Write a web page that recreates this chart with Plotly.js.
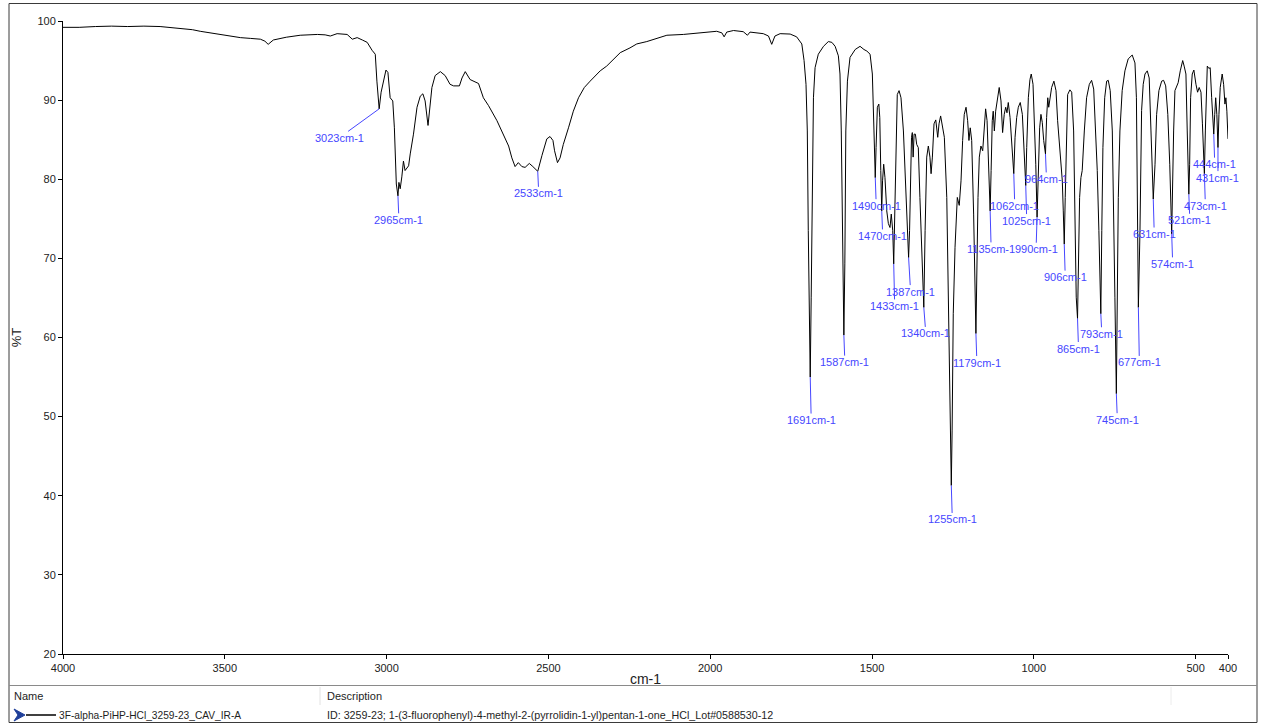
<!DOCTYPE html>
<html>
<head>
<meta charset="utf-8">
<script src="https://cdn.plot.ly/plotly-3.0.1.min.js"></script>
<style>
html,body{margin:0;padding:0;background:#fff;}
#chart{width:1261px;height:725px;}
</style>
</head>
<body>
<div id="chart"></div>
<script>
// ---------------- DATA ----------------
const wavenumber = [
4000,3950,3900,3850,3800,3750,3700,3650,3600,3576,3520,3452,3420,3390,3376,3366,3350,3310,3267,3214,
3190,3174,3153,3122,3106,3091,3075,3060,3045,3035,3030,3025,3023,3017,3010,3002,2996,2989,2981,2976,
2970,2965,2962,2958,2953,2948,2943,2932,2927,2917,2906,2896,2888,2881,2872,2867,2860,2850,2834,2819,
2804,2793,2775,2767,2757,2742,2716,2701,2685,2659,2639,2623,2613,2603,2593,2582,2572,2559,2548,2533,
2520,2505,2495,2486,2481,2472,2464,2454,2438,2423,2407,2389,2371,2340,2320,2299,2278,2248,2227,2196,
2165,2134,2083,2031,1980,1964,1957,1949,1928,1898,1885,1877,1836,1820,1810,1800,1784,1753,1733,1717,
1710,1704,1700,1697,1694,1691,1688,1684,1681,1676,1666,1650,1635,1624,1614,1604,1599,1595,1591,1587,
1584,1581,1576,1568,1552,1537,1525,1516,1506,1499,1494,1490,1487.5,1483.5,1479,1476,1473,1470,1467.5,1464,
1460,1454.5,1449.5,1444.5,1440.5,1436,1433,1429,1426,1422,1416.5,1410.5,1403,1394.5,1387,1384,1381,1378,1375.5,1373,
1370,1366,1362,1357,1352,1346,1340,1336,1331,1326,1321,1317.5,1313.5,1308.5,1303,1297,1293,1288,1283,1276.5,
1269,1264,1259,1255,1252.5,1249,1243.5,1236.5,1230.5,1225,1220,1215,1209.5,1204.5,1200.5,1196.5,1192,1186,1179,1176,
1172.5,1168.5,1163.5,1158,1154,1149,1144.5,1140,1135,1132,1128.5,1125.5,1122,1118,1111.5,1107,1101.5,1096.5,1091.5,1087,
1083,1079,1073.5,1068,1062,1058,1053,1048,1042,1035.5,1030,1025,1022,1017,1012,1008,1002.5,998.5,994,990,
986,982,978,974,969.5,964,960.5,957,954,950,945,938,931.5,926.5,919,912,909,906,903,899.5,
895.5,888.5,883,877,873,869,865,862.5,858.5,854.5,850.5,844,837,828.5,821.5,815,809,804,799,793,
790,786.5,781,775,770,764,757.5,753.5,749.5,745,742,739,734,727,718.5,708.5,696,687.5,683,680,
677,672,669,667,662,656.5,649.5,643.5,638,634,631,625.5,620.5,613.5,605,599,592.5,586,580,574,
571.5,568,564,558.5,554,547.5,540,535.5,530,526,521,518.5,515.5,510.5,505.5,499,494,489,483.5,479,
473,470,467,464,459,455,450.5,444,441,438,434.5,431,428,424,418,413.5,409.5,406.5,403.5,400
];
const transmittance = [
99.2,99.2,99.3,99.35,99.3,99.35,99.3,99.1,98.9,98.7,98.35,97.9,97.8,97.7,97.45,97.05,97.6,97.95,98.2,98.3,
98.25,98.1,98.4,98.3,97.7,97.9,97.6,97.3,96.3,95.8,92.4,89.6,88.9,91.0,92.4,93.8,93.5,90.3,89.9,86.5,
79.4,77.9,79.6,78.8,80.3,82.3,81.1,81.7,83.2,85.7,89.1,90.5,90.8,89.9,86.8,88.6,91.6,93.1,93.6,93.1,
92.0,91.8,91.8,92.8,93.6,92.6,92.1,90.3,89.3,87.4,85.7,84.2,82.7,81.6,82.1,81.6,81.5,82.0,81.6,81.0,
83.0,85.1,85.4,84.9,83.6,82.1,82.7,84.4,86.5,88.6,90.3,91.6,92.4,93.7,94.3,95.2,96.0,96.6,97.1,97.4,
97.8,98.2,98.3,98.5,98.7,98.5,98.0,98.6,98.8,98.65,98.2,98.6,98.4,98.1,97.05,98.1,98.4,98.35,98.0,97.1,
95.0,92.0,86.1,73.5,65.1,55.0,65.1,81.9,90.3,94.1,95.8,96.8,97.4,97.3,96.8,95.6,93.3,86.1,73.5,60.3,
69.3,86.1,92.4,95.4,96.4,96.8,96.4,96.2,95.8,93.3,86.1,80.2,84.0,89.1,89.5,87.8,81.1,76.0,79.8,81.9,
80.2,76.0,74.4,73.9,75.6,73.5,69.3,77.7,86.1,90.7,91.2,90.3,86.1,77.7,70.1,73.5,81.9,85.3,85.9,82.8,
85.7,85.7,84.4,84.0,77.7,69.3,63.8,73.5,82.8,84.2,82.8,80.7,82.8,87.0,87.5,85.3,87.0,88.0,87.0,85.3,
77.7,65.1,48.3,41.3,48.3,63.0,71.4,77.7,76.7,79.8,84.9,88.2,89.1,87.4,84.9,86.5,84.9,75.6,60.5,69.3,
77.7,82.8,84.2,83.6,86.5,88.9,87.4,81.9,76.0,81.1,87.4,88.6,86.1,88.6,90.7,91.6,89.9,85.9,88.2,89.1,
88.4,89.7,87.8,84.0,80.7,85.3,87.8,89.1,89.7,88.2,84.0,79.2,84.0,90.3,92.6,93.3,92.0,88.2,81.9,75.2,
81.9,86.5,88.2,87.2,84.9,83.2,87.8,90.3,89.1,90.3,91.6,92.4,91.2,87.4,83.6,79.8,76.0,71.8,77.7,86.1,
90.7,91.3,91.0,86.1,77.7,65.1,62.4,69.3,77.7,80.2,81.1,86.1,90.3,92.0,92.5,91.4,86.1,81.1,73.5,63.0,
73.5,84.0,90.3,92.4,92.5,91.2,86.1,77.7,65.1,52.9,65.1,77.7,86.1,91.2,93.7,95.2,95.7,94.7,90.3,77.7,
63.8,73.5,86.1,88.7,92.0,93.3,93.7,92.8,86.1,79.8,77.5,81.9,88.2,91.2,92.4,92.5,91.8,88.2,81.9,73.1,
79.8,86.1,91.2,91.7,92.2,93.7,95.0,94.3,93.3,86.1,78.1,81.9,90.3,93.3,93.8,92.0,91.0,91.6,91.0,87.0,
80.7,86.1,92.4,94.3,94.0,94.1,90.3,85.7,88.2,90.3,88.2,84.0,88.2,91.6,93.3,92.0,89.5,90.3,88.6,85.1
];
const peakWavenumbers = [3023,2965,2533,1691,1587,1490,1470,1433,1387,1340,1255,1179,1135,1062,1025,990,964,906,865,793,745,677,631,574,521,473,444,431];
const xTickValues = [4000,3500,3000,2500,2000,1500,1000,500,400];
const tableHeaders = ["Name","Description"];
const sampleName = "3F-alpha-PiHP-HCl_3259-23_CAV_IR-A";
const sampleDescription = "ID: 3259-23; 1-(3-fluorophenyl)-4-methyl-2-(pyrrolidin-1-yl)pentan-1-one_HCl_Lot#0588530-12";

// ---------------- LAYOUT / STYLE ----------------
// label offsets (pixels from peak to label centre), same order as peakWavenumbers
const labelOffsets = [
[-40,29],[1,24],[1,22],[1,43],[1,27],[1,28],[1,25],[1,42],[2,34],[2,26],
[1,34],[1,29],[1,38],[1,32],[1,35],[-1,32],[1,25],[1,33],[1,30],[1,20],
[1,26],[1,55],[1,35],[1,30],[1,26],[1,32],[1,30],[0,30]
];
const W = 1261, H = 725;
const L = 63, R = 1228, T = 21, B = 654;
const px = p => (p - L) / (R - L);
const py = p => (B - p) / (B - T);
const blue = '#4646ff';

const peakAnnotations = peakWavenumbers.map((wn, i) => {
  const idx = wavenumber.indexOf(wn);
  return {
    x: wn, y: transmittance[idx], xref: 'x', yref: 'y',
    text: wn + 'cm-1', showarrow: true, arrowhead: 0, arrowwidth: 1,
    arrowcolor: blue, ax: labelOffsets[i][0], ay: labelOffsets[i][1],
    standoff: 0, startstandoff: 0, borderpad: 0,
    font: {family: 'Liberation Sans, Arial, sans-serif', size: 11, color: blue}
  };
});

const headFont = {family: 'Liberation Sans, Arial, sans-serif', size: 11, color: '#1e1e1e'};
const nameFont = {family: 'Liberation Sans, Arial, sans-serif', size: 10.2, color: '#1e1e1e'};
const descFont = {family: 'Liberation Sans, Arial, sans-serif', size: 10.7, color: '#1e1e1e'};
const tableAnnotations = [
  {text: tableHeaders[0], x: px(12), y: py(696), font: headFont},
  {text: tableHeaders[1], x: px(325), y: py(696), font: headFont},
  {text: sampleName, x: px(57), y: py(715), font: nameFont},
  {text: sampleDescription, x: px(325), y: py(715), font: descFont}
].map(a => Object.assign({xref: 'paper', yref: 'paper', showarrow: false, xanchor: 'left', yanchor: 'middle'}, a));

const shapes = [
  // outer frame
  {type: 'rect', xref: 'paper', yref: 'paper', x0: px(9), x1: px(1257), y0: py(3.5), y1: py(722.5),
   line: {color: '#3a3a3a', width: 1}, fillcolor: 'rgba(0,0,0,0)'},
  // table top line
  {type: 'line', xref: 'paper', yref: 'paper', x0: px(9), x1: px(1257), y0: py(685.5), y1: py(685.5),
   line: {color: '#8a8a8a', width: 1}},
  // column separators in header
  {type: 'line', xref: 'paper', yref: 'paper', x0: px(320), x1: px(320), y0: py(687), y1: py(705),
   line: {color: '#e2e2e2', width: 1}},
  {type: 'line', xref: 'paper', yref: 'paper', x0: px(1171), x1: px(1171), y0: py(687), y1: py(705),
   line: {color: '#ececec', width: 1}},
  // legend icon: arrow head and line sample
  {type: 'path', xref: 'paper', yref: 'paper',
   path: `M ${px(14)} ${py(709)} L ${px(25)} ${py(715)} L ${px(14)} ${py(721)} L ${px(18)} ${py(715)} Z`,
   fillcolor: '#1f3f9a', line: {color: '#1f3f9a', width: 1}},
  {type: 'line', xref: 'paper', yref: 'paper', x0: px(26), x1: px(56), y0: py(715), y1: py(715),
   line: {color: '#000', width: 1.5}}
];

const axisFont = {family: 'Liberation Sans, Arial, sans-serif', size: 11, color: '#222'};

const trace = {
  x: wavenumber, y: transmittance, type: 'scatter', mode: 'lines',
  line: {color: '#000', width: 1}, hoverinfo: 'skip', showlegend: false
};

const layout = {
  width: W, height: H,
  margin: {l: L, r: W - R, t: T, b: H - B, pad: 0},
  paper_bgcolor: '#fff', plot_bgcolor: '#fff',
  showlegend: false,
  xaxis: {
    range: [4000, 400], tickvals: xTickValues, ticktext: xTickValues.map(String),
    ticks: 'outside', ticklen: 4, tickcolor: '#000', tickwidth: 1,
    showline: true, linecolor: '#000', linewidth: 1, showgrid: false, zeroline: false,
    tickfont: axisFont, automargin: false,
    title: {text: 'cm-1', font: {family: 'Liberation Sans, Arial, sans-serif', size: 14, color: '#222'}, standoff: 0}
  },
  yaxis: {
    range: [20, 100], tickmode: 'linear', tick0: 20, dtick: 10,
    ticks: 'outside', ticklen: 4, tickcolor: '#000', tickwidth: 1,
    showline: true, linecolor: '#000', linewidth: 1, showgrid: false, zeroline: false,
    tickfont: axisFont, automargin: false,
    title: {text: '%T', font: {family: 'Liberation Sans, Arial, sans-serif', size: 13, color: '#222'}, standoff: 12}
  },
  shapes: shapes,
  annotations: peakAnnotations.concat(tableAnnotations)
};

Plotly.newPlot('chart', [trace], layout, {staticPlot: true, displayModeBar: false});
</script>
</body>
</html>
